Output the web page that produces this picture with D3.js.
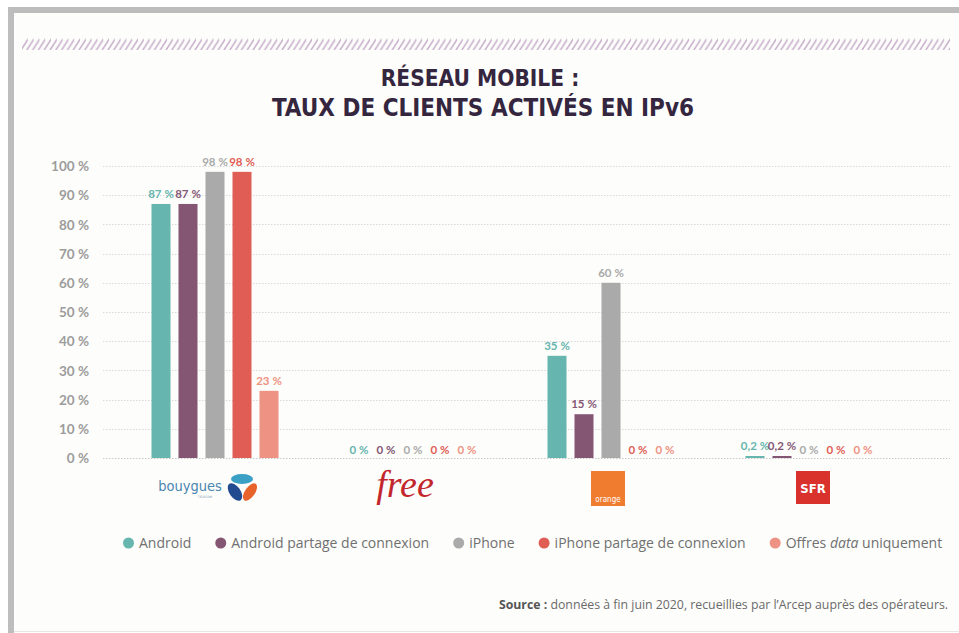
<!DOCTYPE html>
<html lang="fr">
<head>
<meta charset="utf-8">
<title>Réseau mobile : taux de clients activés en IPv6</title>
<style>
body { margin: 0; background: #ffffff; }
svg { display: block; }
</style>
<script src="https://cdn.jsdelivr.net/npm/d3@7"></script>
</head>
<body>
<script>
// Data (fin juin 2020)
var operators = ["Bouygues Telecom", "Free", "Orange", "SFR"];
var seriesNames = ["Android", "Android partage de connexion", "iPhone",
                   "iPhone partage de connexion", "Offres data uniquement"];
var seriesColors = ["#66b5ae", "#845674", "#aaaaaa", "#e05d55", "#ee9383"];
var android = [87, 0, 35, 0.2];
var androidPartage = [87, 0, 15, 0.2];
var iphone = [98, 0, 60, 0];
var iphonePartage = [98, 0, 0, 0];
var offresData = [23, 0, 0, 0];
var yTicks = [0, 10, 20, 30, 40, 50, 60, 70, 80, 90, 100];

var seriesValues = [android, androidPartage, iphone, iphonePartage, offresData];

var width = 959, height = 633;
var svg = d3.select("body").append("svg")
    .attr("width", width)
    .attr("height", height);

// frame
svg.append("rect")
    .attr("x", 11).attr("y", 10)
    .attr("width", 1000).attr("height", 621)
    .attr("fill", "#fdfdfb");
svg.append("line").attr("x1", 11).attr("y1", 10).attr("x2", 11).attr("y2", 633)
    .attr("stroke", "#bdbdbd").attr("stroke-width", 6);
svg.append("line").attr("x1", 8).attr("y1", 10).attr("x2", 959).attr("y2", 10)
    .attr("stroke", "#bdbdbd").attr("stroke-width", 6);
svg.append("line").attr("x1", 14).attr("y1", 631.5).attr("x2", 959).attr("y2", 631.5)
    .attr("stroke", "#e6e6e6").attr("stroke-width", 1);

// hatched band
var defs = svg.append("defs");
var pat = defs.append("pattern")
    .attr("id", "hatch")
    .attr("patternUnits", "userSpaceOnUse")
    .attr("width", 5.8).attr("height", 12)
    .attr("x", 22).attr("y", 38);
pat.append("line")
    .attr("x1", -1).attr("y1", 12).attr("x2", 6.8).attr("y2", 0)
    .attr("stroke", "#c9b4cd").attr("stroke-width", 1.7);
pat.append("line")
    .attr("x1", 4.8).attr("y1", 12).attr("x2", 12.6).attr("y2", 0)
    .attr("stroke", "#c9b4cd").attr("stroke-width", 1.7);
svg.append("rect")
    .attr("x", 22).attr("y", 38)
    .attr("width", 928).attr("height", 12)
    .attr("fill", "url(#hatch)");

// title
var title = svg.append("text")
    .attr("text-anchor", "middle")
    .style("font-family", "'DejaVu Sans Condensed', 'Liberation Sans Narrow', sans-serif")
    .style("font-weight", "bold")
    .attr("fill", "#35263f");
title.append("tspan").attr("x", 480).attr("y", 86).style("font-size", "22.5px").text("RÉSEAU MOBILE :");
title.append("tspan").attr("x", 483).attr("y", 116).style("font-size", "24px").text("TAUX DE CLIENTS ACTIVÉS EN IPv6");

// scales
var y = d3.scaleLinear().domain([0, 100]).range([458, 166]);
var x0 = d3.scaleBand().domain(operators).range([116, 908]);
var x1 = d3.scaleBand().domain(seriesNames).range([-63.5, 63.5]).paddingInner(8 / 27);

// gridlines
svg.append("g").selectAll("line")
    .data(yTicks)
    .enter()
    .append("line")
        .attr("x1", 103).attr("x2", 950)
        .attr("y1", function(d) { return Math.round(y(d)) + 0.5; })
        .attr("y2", function(d) { return Math.round(y(d)) + 0.5; })
        .attr("stroke", function(d) { return d === 0 ? "#c8c8c8" : "#d9d9d9"; })
        .attr("stroke-width", 1)
        .attr("stroke-dasharray", "1.5,1.5");

// y axis labels
var yAxis = d3.axisLeft(y)
    .tickValues(yTicks)
    .tickSize(0)
    .tickPadding(0)
    .tickFormat(function(d) { return d + "\u202f%"; });
var gy = svg.append("g")
    .attr("transform", "translate(89,0)")
    .call(yAxis);
gy.select(".domain").remove();
gy.selectAll("text")
    .attr("fill", "#9c9c9c")
    .attr("dy", "0.35em")
    .style("font-family", "Lato, 'Open Sans', sans-serif")
    .style("font-weight", "bold")
    .style("font-size", "13.5px");

// bars
var groups = svg.append("g").selectAll("g")
    .data(operators)
    .enter()
    .append("g")
        .attr("transform", function(d) { return "translate(" + (x0(d) + x0.bandwidth() / 2) + ",0)"; });

var cells = groups.selectAll("g")
    .data(function(op, oi) {
        return seriesNames.map(function(s, si) {
            return { series: s, color: seriesColors[si], value: seriesValues[si][oi] };
        });
    })
    .enter()
    .append("g");

function barTop(v) { return Math.min(y(v), y(0) - 2); }

cells.filter(function(d) { return d.value > 0; })
    .append("rect")
        .attr("x", function(d) { return x1(d.series); })
        .attr("width", x1.bandwidth())
        .attr("y", function(d) { return barTop(d.value); })
        .attr("height", function(d) { return y(0) - barTop(d.value); })
        .attr("fill", function(d) { return d.color; });

cells.append("text")
    .attr("x", function(d) { return x1(d.series) + x1.bandwidth() / 2; })
    .attr("y", function(d) { return d.value > 0 ? barTop(d.value) - 6 : y(0) - 4; })
    .attr("text-anchor", "middle")
    .attr("fill", function(d) { return d.color; })
    .style("font-family", "Lato, 'Open Sans', sans-serif")
    .style("font-weight", "bold")
    .style("font-size", "11.5px")
    .style("letter-spacing", "-0.3px")
    .text(function(d) { return String(d.value).replace(".", ",") + "\u202f%"; });

// operator logos (drawn approximations)
function cx(op) { return x0(op) + x0.bandwidth() / 2; }
var logoY = 488;

var bt = svg.append("g").attr("transform", "translate(" + (cx("Bouygues Telecom") - 4) + "," + logoY + ")");
bt.append("text").attr("x", -21).attr("y", 3).attr("text-anchor", "middle")
    .attr("fill", "#4a86b0")
    .style("font-family", "'DejaVu Sans Condensed', sans-serif")
    .style("font-size", "14.5px")
    .text("bouygues");
bt.append("text").attr("x", -6).attr("y", 10).attr("text-anchor", "middle")
    .attr("fill", "#7a9ab5")
    .style("font-family", "'DejaVu Sans', sans-serif")
    .style("font-size", "3px")
    .text("TELECOM");
bt.append("ellipse").attr("cx", 31).attr("cy", -9).attr("rx", 11).attr("ry", 5).attr("fill", "#3aa0c6");
bt.append("ellipse").attr("cx", 24).attr("cy", 4).attr("rx", 10).attr("ry", 5.5)
    .attr("transform", "rotate(55,24,4)").attr("fill", "#234b8f");
bt.append("ellipse").attr("cx", 39).attr("cy", 4).attr("rx", 10).attr("ry", 5)
    .attr("transform", "rotate(-55,39,4)").attr("fill", "#e8622c");

svg.append("text")
    .attr("x", cx("Free") - 8).attr("y", logoY + 9)
    .attr("text-anchor", "middle")
    .attr("fill", "#c3262d")
    .style("font-family", "'Liberation Serif', serif")
    .style("font-style", "italic")
    .style("font-size", "38px")
    .text("free");

var og = svg.append("g").attr("transform", "translate(" + (cx("Orange") - 3) + "," + logoY + ")");
og.append("rect").attr("x", -17).attr("y", -17).attr("width", 34).attr("height", 35).attr("fill", "#f07c2f");
og.append("text").attr("x", 0).attr("y", 14).attr("text-anchor", "middle")
    .attr("fill", "#ffffff")
    .style("font-family", "'DejaVu Sans Condensed', sans-serif")
    .style("font-size", "8px")
    .text("orange");

var sf = svg.append("g").attr("transform", "translate(" + (cx("SFR") + 4) + "," + logoY + ")");
sf.append("rect").attr("x", -17).attr("y", -17).attr("width", 34).attr("height", 33).attr("fill", "#d9312c");
sf.append("text").attr("x", 0).attr("y", 5).attr("text-anchor", "middle")
    .attr("fill", "#ffffff")
    .style("font-family", "'DejaVu Sans Condensed', sans-serif")
    .style("font-weight", "bold")
    .style("font-size", "13px")
    .text("SFR");

// legend
var legend = svg.append("g").attr("transform", "translate(0,543)");
var lx = 123;
seriesNames.forEach(function(name, i) {
    var item = legend.append("g").attr("transform", "translate(" + lx + ",0)");
    item.append("circle").attr("cx", 5.5).attr("cy", 0).attr("r", 5.5).attr("fill", seriesColors[i]);
    var t = item.append("text")
        .attr("x", 16).attr("y", 0).attr("dy", "0.35em")
        .attr("fill", "#707070")
        .style("font-family", "'Open Sans', sans-serif")
        .style("font-size", "14px");
    if (name === "Offres data uniquement") {
        t.append("tspan").text("Offres ");
        t.append("tspan").style("font-style", "italic").text("data");
        t.append("tspan").text(" uniquement");
    } else {
        t.text(name);
    }
    lx += 16 + t.node().getComputedTextLength() + 24;
});

// source
var src = svg.append("text")
    .attr("x", 948).attr("y", 609)
    .attr("text-anchor", "end")
    .attr("fill", "#6a6a6a")
    .style("font-family", "'Open Sans', sans-serif")
    .style("font-size", "12.3px");
src.append("tspan").style("font-weight", "bold").attr("fill", "#555").text("Source : ");
src.append("tspan").text("données à fin juin 2020, recueillies par l’Arcep auprès des opérateurs.");
</script>
</body>
</html>
